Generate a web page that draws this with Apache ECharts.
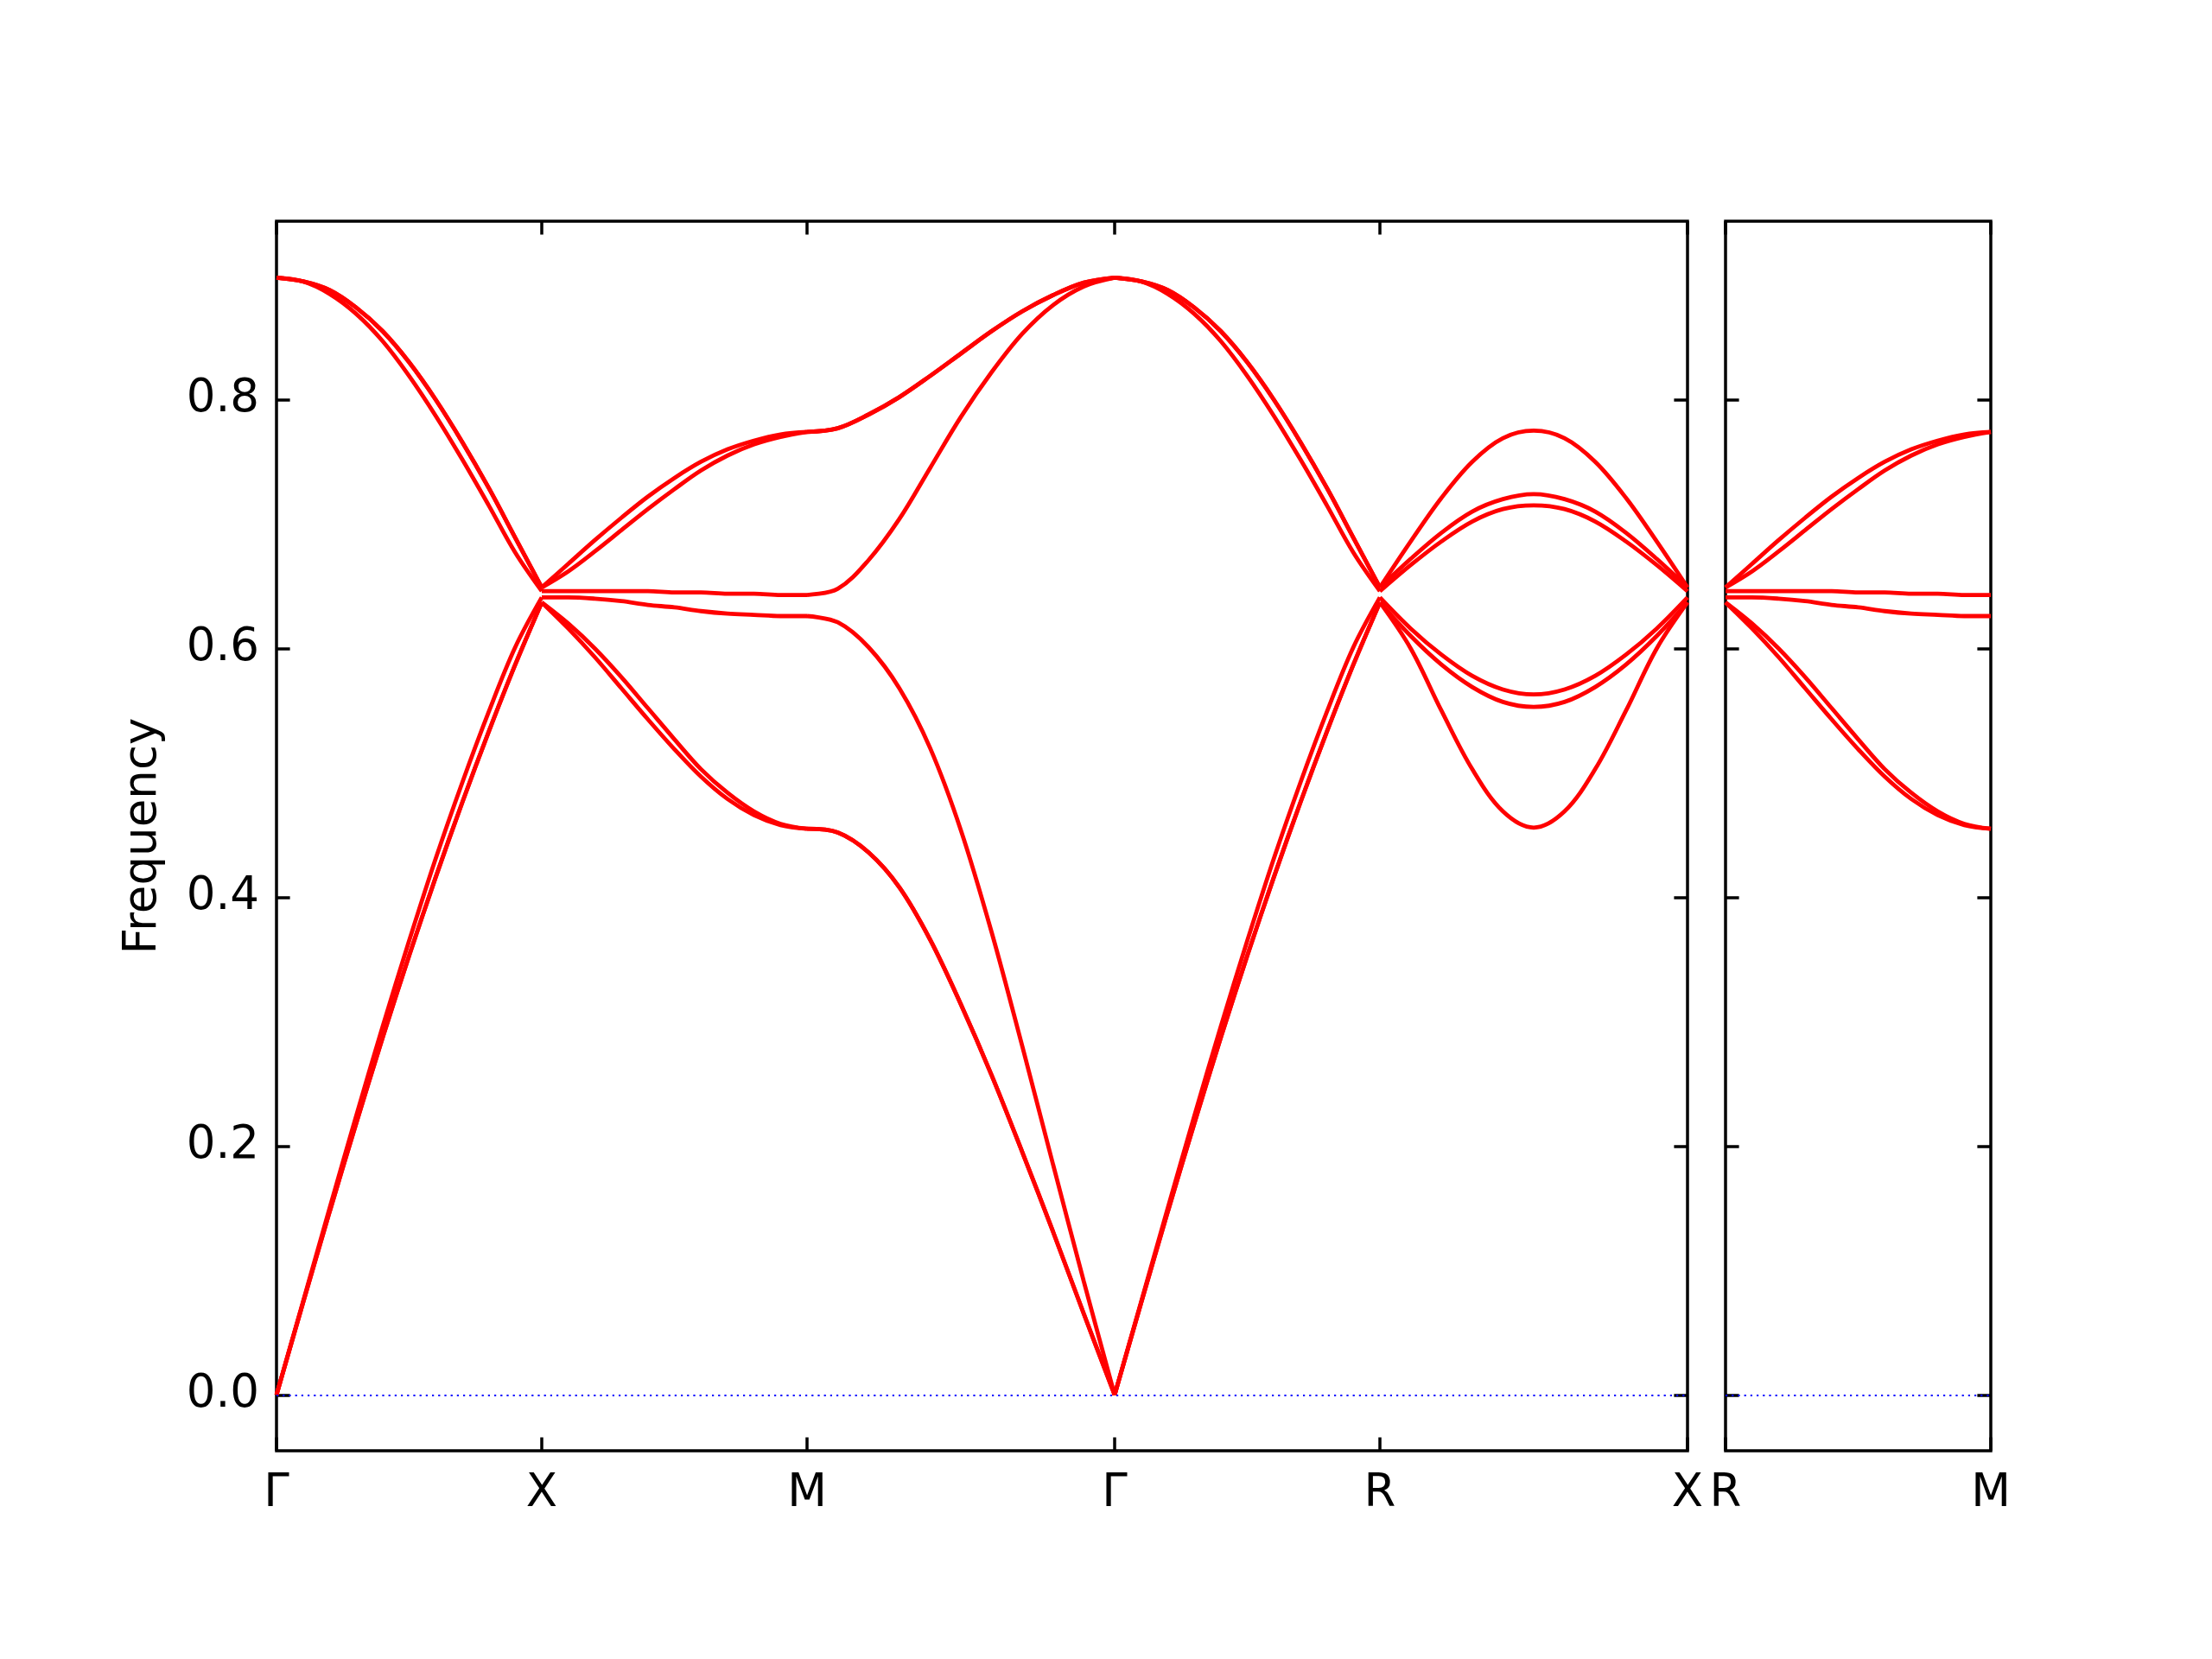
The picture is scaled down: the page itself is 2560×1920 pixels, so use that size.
<!DOCTYPE html>
<html><head><meta charset="utf-8">
<script src="https://cdn.jsdelivr.net/npm/echarts@6/dist/echarts.min.js"></script>
<style>html,body{margin:0;padding:0;background:#fff}#c{width:2560px;height:1920px}</style>
</head><body><div id="c"></div>
<script>
// ---- tick labels & positions (path distance) ----
const mainTickLabels = ['Γ', 'X', 'M', 'Γ', 'R', 'X'];
const mainTickPos = [0, 1, 2, 3.1596, 4.1596, 5.3192];
const sideTickLabels = ['R', 'M'];
const sideTickPos = [0, 1];
const yTicks = [0, 0.2, 0.4, 0.6, 0.8];
const yRange = [-0.0449, 0.9434];
// fraction along each segment for the sampled values below
const frac = [0, 0.1, 0.2, 0.3, 0.4, 0.5, 0.6, 0.7, 0.8, 0.9, 1.0];

// ---- band frequencies per segment (6 bands each) ----
const bandsGX = [ // Γ -> X
  [0, 0.074, 0.147, 0.218, 0.287, 0.353, 0.416, 0.476, 0.533, 0.587, 0.637],
  [0, 0.074, 0.147, 0.218, 0.287, 0.353, 0.416, 0.476, 0.533, 0.587, 0.637],
  [0, 0.075, 0.150, 0.224, 0.296, 0.365, 0.431, 0.492, 0.549, 0.601, 0.641],
  [0.898, 0.895, 0.885, 0.869, 0.847, 0.819, 0.787, 0.752, 0.715, 0.677, 0.646],
  [0.898, 0.895, 0.888, 0.874, 0.855, 0.830, 0.800, 0.766, 0.729, 0.689, 0.649],
  [0.898, 0.895, 0.888, 0.874, 0.855, 0.830, 0.800, 0.766, 0.729, 0.689, 0.649]
];
const bandsXM = [ // X -> M
  [0.637, 0.616, 0.593, 0.568, 0.543, 0.519, 0.497, 0.479, 0.466, 0.458, 0.455],
  [0.637, 0.620, 0.600, 0.577, 0.552, 0.527, 0.503, 0.484, 0.469, 0.459, 0.455],
  [0.641, 0.641, 0.640, 0.638, 0.635, 0.633, 0.630, 0.628, 0.627, 0.626, 0.626],
  [0.646, 0.646, 0.646, 0.646, 0.646, 0.645, 0.645, 0.644, 0.644, 0.643, 0.643],
  [0.649, 0.662, 0.678, 0.695, 0.712, 0.728, 0.743, 0.755, 0.764, 0.770, 0.774],
  [0.649, 0.668, 0.687, 0.705, 0.722, 0.737, 0.750, 0.760, 0.767, 0.772, 0.774]
];
const bandsMG = [ // M -> Γ
  [0.455, 0.452, 0.436, 0.408, 0.366, 0.314, 0.257, 0.195, 0.131, 0.065, 0],
  [0.455, 0.452, 0.436, 0.408, 0.366, 0.314, 0.257, 0.195, 0.131, 0.065, 0],
  [0.626, 0.621, 0.601, 0.568, 0.520, 0.454, 0.372, 0.280, 0.185, 0.091, 0],
  [0.643, 0.648, 0.671, 0.704, 0.745, 0.786, 0.822, 0.853, 0.876, 0.891, 0.898],
  [0.774, 0.777, 0.788, 0.802, 0.819, 0.837, 0.855, 0.871, 0.884, 0.894, 0.898],
  [0.774, 0.777, 0.788, 0.802, 0.819, 0.837, 0.855, 0.871, 0.884, 0.894, 0.898]
];
const bandsGR = [ // Γ -> R
  [0, 0.074, 0.147, 0.218, 0.287, 0.353, 0.416, 0.476, 0.533, 0.587, 0.637],
  [0, 0.074, 0.147, 0.218, 0.287, 0.353, 0.416, 0.476, 0.533, 0.587, 0.637],
  [0, 0.075, 0.150, 0.224, 0.296, 0.365, 0.431, 0.492, 0.549, 0.601, 0.641],
  [0.898, 0.895, 0.885, 0.869, 0.847, 0.819, 0.787, 0.752, 0.715, 0.677, 0.646],
  [0.898, 0.895, 0.888, 0.874, 0.855, 0.830, 0.800, 0.766, 0.729, 0.689, 0.649],
  [0.898, 0.895, 0.888, 0.874, 0.855, 0.830, 0.800, 0.766, 0.729, 0.689, 0.649]
];
const bandsRX = [ // R -> X
  [0.637, 0.600, 0.550, 0.503, 0.469, 0.456, 0.469, 0.503, 0.550, 0.600, 0.637],
  [0.637, 0.610, 0.587, 0.569, 0.557, 0.553, 0.557, 0.569, 0.587, 0.610, 0.637],
  [0.641, 0.616, 0.595, 0.578, 0.567, 0.563, 0.567, 0.578, 0.595, 0.616, 0.641],
  [0.646, 0.667, 0.686, 0.702, 0.712, 0.715, 0.712, 0.702, 0.686, 0.667, 0.646],
  [0.649, 0.672, 0.693, 0.710, 0.720, 0.724, 0.720, 0.710, 0.693, 0.672, 0.649],
  [0.649, 0.686, 0.721, 0.750, 0.769, 0.775, 0.769, 0.750, 0.721, 0.686, 0.649]
];
const bandsRM = [ // R -> M (second panel)
  [0.637, 0.616, 0.593, 0.568, 0.543, 0.519, 0.497, 0.479, 0.466, 0.458, 0.455],
  [0.637, 0.620, 0.600, 0.577, 0.552, 0.527, 0.503, 0.484, 0.469, 0.459, 0.455],
  [0.641, 0.641, 0.640, 0.638, 0.635, 0.633, 0.630, 0.628, 0.627, 0.626, 0.626],
  [0.646, 0.646, 0.646, 0.646, 0.646, 0.645, 0.645, 0.644, 0.644, 0.643, 0.643],
  [0.649, 0.662, 0.678, 0.695, 0.712, 0.728, 0.743, 0.755, 0.764, 0.770, 0.774],
  [0.649, 0.668, 0.687, 0.705, 0.722, 0.737, 0.750, 0.760, 0.767, 0.772, 0.774]
];

// ---- build chart ----
const FONT = 'DejaVu Sans';
const FS = 53;
const LW = 3.5;
const TICK = { show: true, inside: true, length: 15.6, lineStyle: { color: '#000', width: LW } };

function labelFor(pos, labels) {
  return function (v) {
    const i = pos.findIndex(p => Math.abs(p - v) < 1e-6);
    return i >= 0 ? labels[i] : '';
  };
}

const series = [];
function addSegments(segs, pos, axisIdx) {
  segs.forEach((bands, s) => {
    const x0 = pos[s], x1 = pos[s + 1];
    bands.forEach(vals => {
      series.push({
        type: 'line', xAxisIndex: axisIdx, yAxisIndex: axisIdx * 2,
        data: frac.map((f, i) => [x0 + f * (x1 - x0), vals[i]]),
        smooth: 0.35, showSymbol: false, silent: true, z: 3,
        lineStyle: { color: '#ff0000', width: 4.8 }
      });
    });
  });
}
addSegments([bandsGX, bandsXM, bandsMG, bandsGR, bandsRX], mainTickPos, 0);
addSegments([bandsRM], sideTickPos, 1);

// zero lines
[0, 1].forEach(g => {
  series.push({
    type: 'line', xAxisIndex: g, yAxisIndex: g * 2, data: [], silent: true, z: 2,
    markLine: {
      silent: true, symbol: 'none', label: { show: false }, animation: false,
      lineStyle: { color: '#0000ff', width: 2.2, type: [2.2, 5] },
      data: [{ yAxis: 0 }]
    }
  });
});

function xAx(grid, pos, labels, position, showLabel) {
  return {
    gridIndex: grid, type: 'value', min: pos[0], max: pos[pos.length - 1], position: position,
    axisLine: { show: false, onZero: false }, splitLine: { show: false },
    axisTick: Object.assign({ customValues: pos }, TICK),
    axisLabel: {
      show: showLabel, customValues: pos, formatter: labelFor(pos, labels),
      showMinLabel: true, showMaxLabel: true, margin: 24,
      fontFamily: FONT, fontSize: FS, color: '#000'
    }
  };
}
function yAx(grid, position, showLabel, name) {
  return {
    gridIndex: grid, type: 'value', min: yRange[0], max: yRange[1], position: position,
    axisLine: { show: false, onZero: false }, splitLine: { show: false },
    axisTick: Object.assign({ customValues: yTicks }, TICK),
    axisLabel: {
      show: showLabel, customValues: yTicks, formatter: v => v.toFixed(1),
      margin: 20, fontFamily: FONT, fontSize: FS, color: '#000'
    },
    name: name || '', nameLocation: 'middle', nameGap: 127,
    nameTextStyle: { fontFamily: FONT, fontSize: FS, color: '#000' }
  };
}

const option = {
  animation: false,
  backgroundColor: '#fff',
  grid: [
    { left: 320, top: 256, width: 1633, height: 1423, show: true, borderColor: '#000', borderWidth: LW, backgroundColor: 'transparent' },
    { left: 1997, top: 256, width: 307, height: 1423, show: true, borderColor: '#000', borderWidth: LW, backgroundColor: 'transparent' }
  ],
  xAxis: [
    xAx(0, mainTickPos, mainTickLabels, 'bottom', true),
    xAx(1, sideTickPos, sideTickLabels, 'bottom', true),
    xAx(0, mainTickPos, mainTickLabels, 'top', false),
    xAx(1, sideTickPos, sideTickLabels, 'top', false)
  ],
  yAxis: [
    yAx(0, 'left', true, 'Frequency'),
    yAx(0, 'right', false),
    yAx(1, 'left', false),
    yAx(1, 'right', false)
  ],
  series: series
};

const chart = echarts.init(document.getElementById('c'), null, { renderer: 'canvas' });
chart.setOption(option);
</script>
</body></html>
